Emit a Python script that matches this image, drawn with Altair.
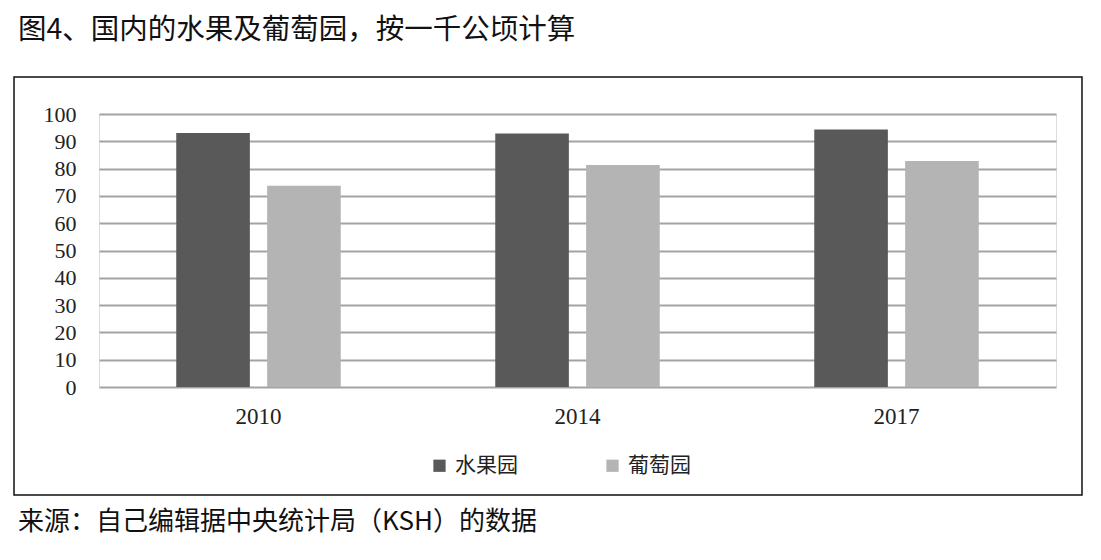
import altair as alt
import pandas as pd

years = ["2010", "2014", "2017"]
series = ["水果园", "葡萄园"]
fruit = [93.0, 92.9, 94.3]
grape = [73.7, 81.3, 82.8]
colors = ["#595959", "#b4b4b4"]
title_text = "图4、国内的水果及葡萄园，按一千公顷计算"
source_text = "来源：自己编辑据中央统计局（KSH）的数据"

rows = []
for i, y in enumerate(years):
    rows.append({"year": y, "series": series[0], "value": fruit[i]})
    rows.append({"year": y, "series": series[1], "value": grape[i]})
df = pd.DataFrame(rows)

CJK = "Noto Sans CJK SC"
SERIF = "Liberation Serif"

bars = alt.Chart(df).mark_bar().encode(
    x=alt.X("year:N", sort=years, title="",
            scale=alt.Scale(paddingInner=0, paddingOuter=0),
            axis=alt.Axis(labelAngle=0, ticks=False, domain=False, labelPadding=18,
                          labelFont=SERIF, labelFontSize=23, labelColor="#222222")),
    xOffset=alt.XOffset("series:N", sort=series,
                        scale=alt.Scale(paddingInner=0.19, paddingOuter=0.85)),
    y=alt.Y("value:Q", title="",
            scale=alt.Scale(domain=[0, 100]),
            axis=alt.Axis(values=list(range(0, 101, 10)), ticks=False, domain=False,
                          labelPadding=23, labelFont=SERIF, labelFontSize=22,
                          labelColor="#222222", gridColor="#a3a3a3", gridWidth=2)),
    color=alt.Color("series:N", sort=series,
                    scale=alt.Scale(domain=series, range=colors),
                    legend=alt.Legend(title="", orient="none", legendX=330, legendY=341,
                                      direction="horizontal", symbolType="square",
                                      symbolSize=150, symbolStrokeWidth=0,
                                      labelFont=CJK, labelFontSize=21, labelColor="#222222",
                                      columnPadding=84, labelOffset=5)),
)

frame = alt.Chart(pd.DataFrame({"a": [0]})).mark_rect(
    fillOpacity=0, stroke="#111111", strokeWidth=1.5
).encode(x=alt.value(-85), x2=alt.value(983), y=alt.value(-37), y2=alt.value(381))

title = alt.Chart(pd.DataFrame({"t": [title_text]})).mark_text(
    align="left", baseline="middle", font=CJK, fontSize=28.5, color="#111111"
).encode(x=alt.value(-81), y=alt.value(-84), text="t:N")

source = alt.Chart(pd.DataFrame({"t": [source_text]})).mark_text(
    align="left", baseline="middle", font=CJK, fontSize=26, color="#111111"
).encode(x=alt.value(-81), y=alt.value(408), text="t:N")

chart = alt.layer(bars, frame, title, source).properties(
    width=957, height=273,
    autosize=alt.AutoSizeParams(type="none"),
    padding={"left": 99, "top": 114, "right": 45, "bottom": 173},
).configure_view(stroke=None).configure(background="white")

chart.save("out.html", embed_options={"renderer": "svg", "actions": False})
